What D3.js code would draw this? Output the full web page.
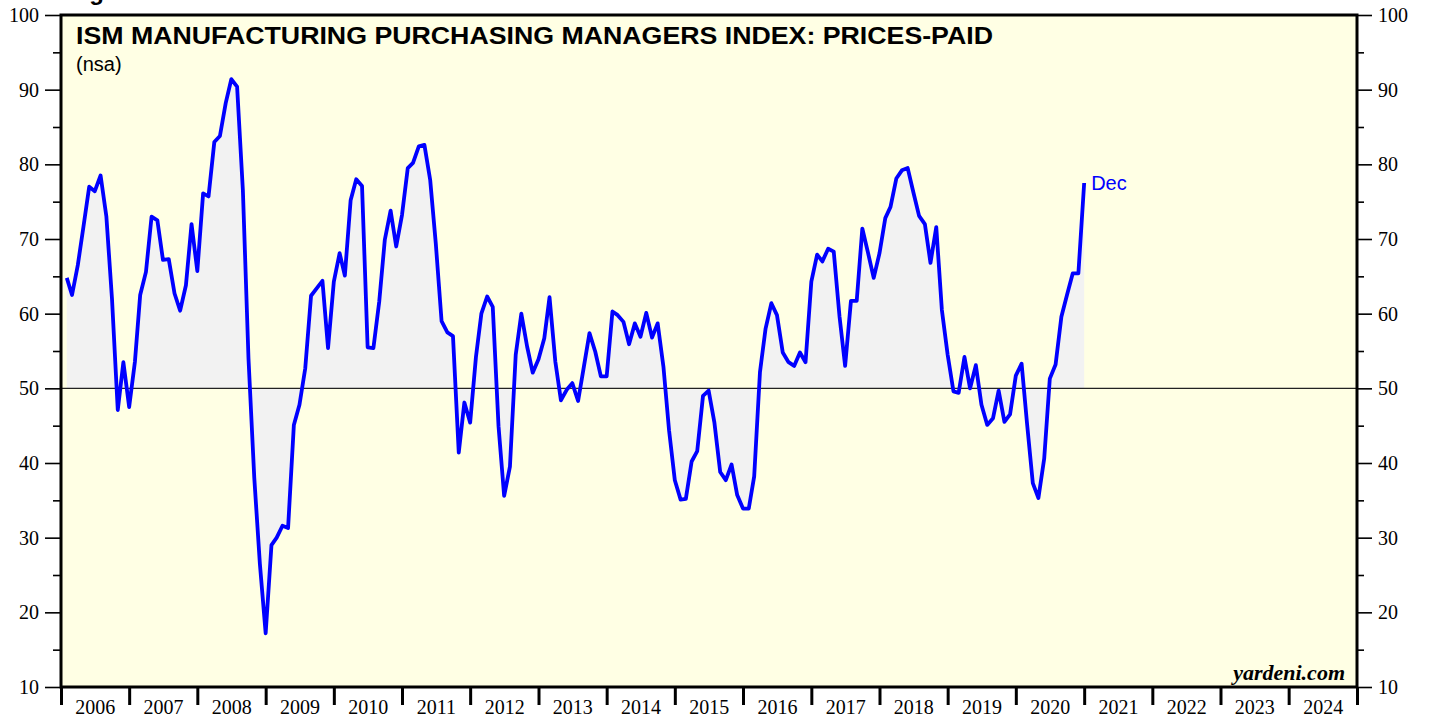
<!DOCTYPE html>
<html>
<head>
<meta charset="utf-8">
<script src="https://cdn.jsdelivr.net/npm/d3@7"></script>
<style>
  body { margin: 0; background: #fff; }
</style>
</head>
<body>
<div id="chart"></div>
<script>
"use strict";

const firstYear = 2006;
// monthly readings, Jan 2006 .. Dec 2020
const pricesPaid = [
  64.8, 62.5, 66.5, 71.6, 77.0, 76.4, 78.5, 73.0, 62.0, 47.1, 53.5, 47.5,
  53.6, 62.5, 65.6, 73.0, 72.5, 67.2, 67.3, 62.7, 60.4, 63.8, 72.0, 65.7,
  76.1, 75.7, 83.0, 83.8, 88.2, 91.4, 90.4, 76.5, 54.0, 38.0, 26.5, 17.2,
  29.0, 30.0, 31.6, 31.3, 45.1, 47.8, 52.7, 62.4, 63.4, 64.4, 55.4, 64.3,
  68.1, 65.1, 75.2, 78.0, 77.1, 55.5, 55.4, 61.6, 69.9, 73.8, 69.0, 73.2,
  79.5, 80.2, 82.4, 82.6, 77.9, 69.4, 59.0, 57.5, 57.0, 41.4, 48.1, 45.4,
  54.2, 60.0, 62.3, 60.9, 44.9, 35.6, 39.5, 54.5, 60.0, 55.6, 52.1, 53.9,
  56.7, 62.2, 53.6, 48.4, 49.8, 50.7, 48.3, 52.9, 57.4, 54.9, 51.6, 51.6,
  60.3, 59.8, 58.9, 55.9, 58.7, 56.9, 60.1, 56.8, 58.7, 52.9, 44.4, 37.7,
  35.1, 35.2, 40.2, 41.6, 49.0, 49.7, 45.4, 38.8, 37.7, 39.8, 35.7, 33.9,
  33.9, 38.2, 52.2, 58.0, 61.4, 59.8, 54.8, 53.5, 53.0, 54.8, 53.5, 64.3,
  67.9, 67.0, 68.7, 68.3, 59.6, 53.0, 61.7, 61.7, 71.4, 68.1, 64.8, 68.1,
  72.8, 74.3, 78.1, 79.2, 79.5, 76.3, 73.1, 72.0, 66.8, 71.6, 60.5, 54.5,
  49.6, 49.4, 54.2, 50.0, 53.1, 47.8, 45.1, 46.0, 49.7, 45.5, 46.5, 51.7,
  53.3, 45.3, 37.3, 35.3, 40.6, 51.3, 53.2, 59.6, 62.5, 65.4, 65.4, 77.5
];
const yearLabels = [2006, 2007, 2008, 2009, 2010, 2011, 2012, 2013, 2014, 2015,
  2016, 2017, 2018, 2019, 2020, 2021, 2022, 2023, 2024];
const yMajor = [10, 20, 30, 40, 50, 60, 70, 80, 90, 100];
const yMinor = [15, 25, 35, 45, 55, 65, 75, 85, 95];
const baseLevel = 50;
const titleText = "ISM MANUFACTURING PURCHASING MANAGERS INDEX: PRICES-PAID";
const subText = "(nsa)";
const lastLabel = "Dec";
const sourceText = "yardeni.com";

const msm = {
  width: 1429,
  height: 721,
  left: 61,
  right: 1357,
  top: 15,
  bottom: 687
};

const svg = d3.select("#chart")
  .append("svg")
  .attr("width", msm.width)
  .attr("height", msm.height);

// points sit at month end
const data = pricesPaid.map((v, i) => ({
  date: new Date(firstYear, i + 1, 1),
  value: v
}));

const x = d3.scaleTime()
  .domain([new Date(yearLabels[0], 0, 1), new Date(yearLabels[yearLabels.length - 1] + 1, 0, 1)])
  .range([msm.left, msm.right]);

const y = d3.scaleLinear()
  .domain([10, 100])
  .range([msm.bottom, msm.top]);

// plot background
svg.append("rect")
  .attr("x", msm.left)
  .attr("y", msm.top)
  .attr("width", msm.right - msm.left)
  .attr("height", msm.bottom - msm.top)
  .attr("fill", "#ffffe4");

// shaded area against the 50 line
svg.append("path")
  .datum(data)
  .attr("fill", "#f2f2f2")
  .attr("d", d3.area()
    .x((d) => x(d.date))
    .y0(y(baseLevel))
    .y1((d) => y(d.value)));

svg.append("line")
  .attr("x1", msm.left)
  .attr("x2", msm.right)
  .attr("y1", y(baseLevel))
  .attr("y2", y(baseLevel))
  .attr("stroke", "#222")
  .attr("stroke-width", 1.4);

svg.append("path")
  .datum(data)
  .attr("fill", "none")
  .attr("stroke", "#0000ff")
  .attr("stroke-width", 3.8)
  .attr("stroke-linejoin", "round")
  .attr("d", d3.line()
    .x((d) => x(d.date))
    .y((d) => y(d.value)));

// axes
function styleAxis(g, width) {
  g.select(".domain").remove();
  g.selectAll(".tick line").attr("stroke", "#000").attr("stroke-width", width);
  g.selectAll(".tick text")
    .attr("fill", "#000")
    .style("font-family", "'Liberation Serif', 'Times New Roman', serif")
    .style("font-size", "20px");
}

svg.append("g")
  .attr("transform", "translate(" + msm.left + ",0)")
  .call(d3.axisLeft(y).tickValues(yMajor).tickSize(16).tickPadding(6))
  .call((g) => styleAxis(g, 1.6));
svg.append("g")
  .attr("transform", "translate(" + msm.left + ",0)")
  .call(d3.axisLeft(y).tickValues(yMinor).tickSize(8).tickFormat(""))
  .call((g) => styleAxis(g, 1.6));
svg.append("g")
  .attr("transform", "translate(" + msm.right + ",0)")
  .call(d3.axisRight(y).tickValues(yMajor).tickSize(15).tickPadding(6))
  .call((g) => styleAxis(g, 1.6));
svg.append("g")
  .attr("transform", "translate(" + msm.right + ",0)")
  .call(d3.axisRight(y).tickValues(yMinor).tickSize(7).tickFormat(""))
  .call((g) => styleAxis(g, 1.6));

const yearTicks = yearLabels.map((yr) => new Date(yr, 0, 1));
yearTicks.push(new Date(yearLabels[yearLabels.length - 1] + 1, 0, 1));
svg.append("g")
  .attr("transform", "translate(0," + msm.bottom + ")")
  .call(d3.axisBottom(x).tickValues(yearTicks).tickSize(18).tickFormat(""))
  .call((g) => styleAxis(g, 3));
svg.append("g")
  .attr("transform", "translate(0," + msm.bottom + ")")
  .call(d3.axisBottom(x)
    .tickValues(yearLabels.map((yr) => new Date(yr, 6, 1)))
    .tickSize(0)
    .tickPadding(13)
    .tickFormat(d3.timeFormat("%Y")))
  .call((g) => styleAxis(g, 0));

// frame
svg.append("rect")
  .attr("x", msm.left)
  .attr("y", msm.top)
  .attr("width", msm.right - msm.left)
  .attr("height", msm.bottom - msm.top)
  .attr("fill", "none")
  .attr("stroke", "#000")
  .attr("stroke-width", 3);

// texts
svg.append("text")
  .attr("x", 68)
  .attr("y", 0)
  .style("font-family", "'Liberation Sans', Arial, sans-serif")
  .style("font-weight", "bold")
  .style("font-size", "24px")
  .text("Figure 1.");

svg.append("text")
  .attr("x", 76)
  .attr("y", 43.5)
  .attr("textLength", 917)
  .attr("lengthAdjust", "spacingAndGlyphs")
  .style("font-family", "'Liberation Sans', Arial, sans-serif")
  .style("font-weight", "bold")
  .style("font-size", "23px")
  .text(titleText);

svg.append("text")
  .attr("x", 76)
  .attr("y", 71)
  .style("font-family", "'Liberation Sans', Arial, sans-serif")
  .style("font-size", "20px")
  .text(subText);

const last = data[data.length - 1];
svg.append("text")
  .attr("x", x(last.date) + 7)
  .attr("y", y(last.value))
  .attr("dy", "0.36em")
  .attr("fill", "#0000ff")
  .style("font-family", "'Liberation Sans', Arial, sans-serif")
  .style("font-size", "20px")
  .text(lastLabel);

svg.append("text")
  .attr("x", 1345)
  .attr("y", 680)
  .attr("text-anchor", "end")
  .style("font-family", "'Liberation Serif', 'Times New Roman', serif")
  .style("font-weight", "bold")
  .style("font-style", "italic")
  .style("font-size", "22px")
  .text(sourceText);
</script>
</body>
</html>
